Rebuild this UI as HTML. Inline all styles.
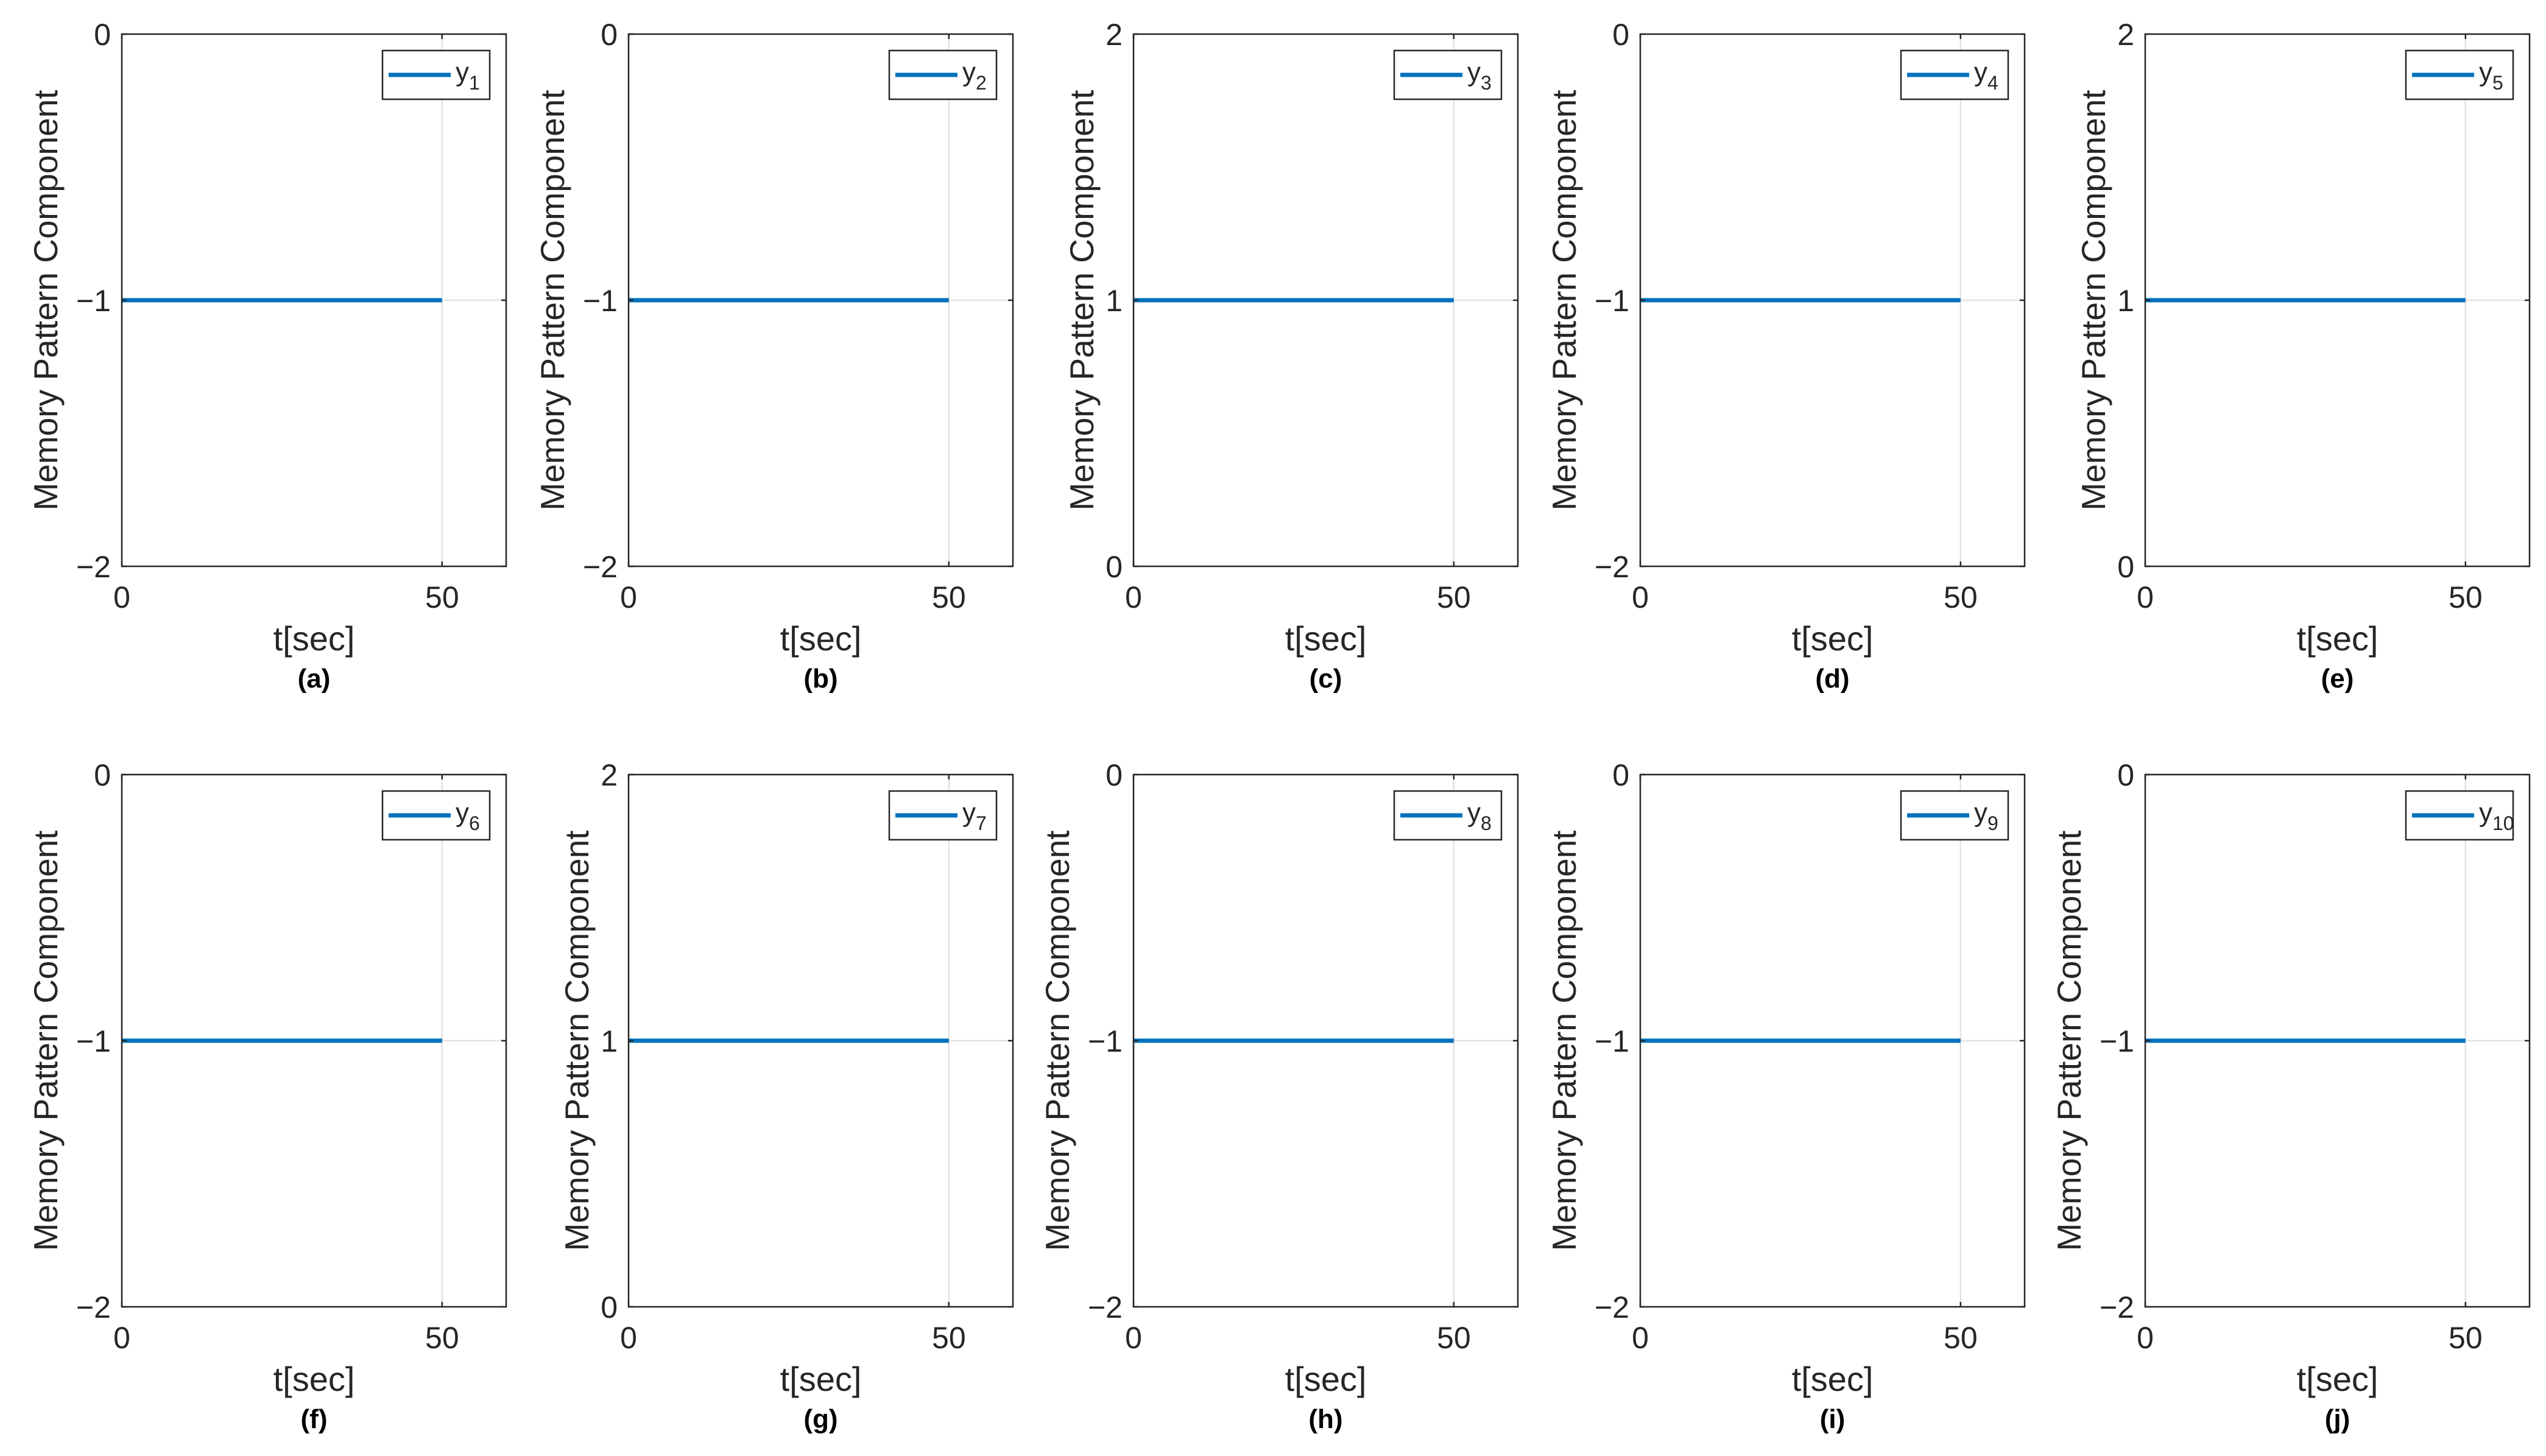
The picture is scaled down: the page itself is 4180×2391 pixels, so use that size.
<!DOCTYPE html>
<html><head><meta charset="utf-8"><style>
html,body{margin:0;padding:0;background:#fff}
svg{display:block}
text{font-family:"Liberation Sans",sans-serif;fill:#262626}
</style></head><body>
<svg id="fig" width="4180" height="2391" viewBox="0 0 4180 2391"></svg>
<script>
const panelLetters = ["a","b","c","d","e","f","g","h","i","j"];
const seriesNames = ["1","2","3","4","5","6","7","8","9","10"];
const seriesValues = [-1,-1,1,-1,1,-1,1,-1,-1,-1];
const yMins = [-2,-2,0,-2,0,-2,0,-2,-2,-2];
const yMaxs = [0,0,2,0,2,0,2,0,0,0];
const tStart = [0,0,0,0,0,0,0,0,0,0];
const tEnd = [50,50,50,50,50,50,50,50,50,50];
const xTicks = [0,50];
const xMax = 60;

const NS = "http://www.w3.org/2000/svg";
const svg = document.getElementById("fig");
const colL = [200,1032,1861,2693,3522];
const axW = 631;
const rowT = [56,1272];
const axH = 874;
function mk(tag, attrs, parent){
  const e = document.createElementNS(NS, tag);
  for (const k in attrs) e.setAttribute(k, attrs[k]);
  (parent||svg).appendChild(e);
  return e;
}
for (let i=0;i<10;i++){
  const L = colL[i%5], T = rowT[Math.floor(i/5)], R = L+axW, B = T+axH;
  const g = mk("g",{});
  
  
  const y0 = yMins[i], y1 = yMaxs[i];
  const sx = v => L + (v/xMax)*axW;
  const sy = v => B - (v-y0)/(y1-y0)*axH;
  const yTicks = [y0,(y0+y1)/2,y1];
  xTicks.forEach(t=>{ if(t>0&&t<xMax){ const l=mk("line",{x1:sx(t),x2:sx(t),y1:T,y2:B,stroke:"#e3e3e3","stroke-width":2.5},g);
     }});
  yTicks.forEach(t=>{ if(t>y0&&t<y1){ const l=mk("line",{x1:L,x2:R,y1:sy(t),y2:sy(t),stroke:"#e3e3e3","stroke-width":2.5},g);
     }});
  const ln = mk("line",{x1:sx(tStart[i]),x2:sx(tEnd[i]),y1:sy(seriesValues[i]),y2:sy(seriesValues[i]),stroke:"#0072BD","stroke-width":7},g);
  
  
  const bx = mk("rect",{x:L,y:T,width:axW,height:axH,fill:"none",stroke:"#262626","stroke-width":2.5},g);
   
  xTicks.forEach(t=>{
    mk("line",{x1:sx(t),x2:sx(t),y1:B,y2:B-8,stroke:"#262626","stroke-width":2.5},g);
    mk("line",{x1:sx(t),x2:sx(t),y1:T,y2:T+8,stroke:"#262626","stroke-width":2.5},g);
    const tx = mk("text",{x:sx(t),y:B+68,"text-anchor":"middle","font-size":50},g);
     
    tx.textContent = String(t);
  });
  yTicks.forEach(t=>{
    mk("line",{x1:L,x2:L+8,y1:sy(t),y2:sy(t),stroke:"#262626","stroke-width":2.5},g);
    mk("line",{x1:R,x2:R-8,y1:sy(t),y2:sy(t),stroke:"#262626","stroke-width":2.5},g);
    const tx = mk("text",{x:L-18,y:sy(t)+18,"text-anchor":"end","font-size":50},g);
     
    tx.textContent = t<0 ? "\u2212"+Math.abs(t) : String(t);
  });
  const xl = mk("text",{x:L+axW/2,y:B+138,"text-anchor":"middle","font-size":56},g);
   
  xl.textContent = "t[sec]";
  const cap = mk("text",{x:L+axW/2,y:B+199,"text-anchor":"middle","font-size":44,"font-weight":"bold",style:"fill:#000"},g);
   
  cap.textContent = "("+panelLetters[i]+")";
  const off = y0<0 ? 106 : 66;
  const yl = mk("text",{x:0,y:0,"text-anchor":"middle","font-size":55,transform:`translate(${L-off},${T+axH/2}) rotate(-90)`},g);
   
  yl.textContent = "Memory Pattern Component";
  const lw = 176, lh = 80, lx = R-27-lw, ly = T+27;
  const lg = mk("g",{},g);
   
  mk("rect",{x:lx,y:ly,width:lw,height:lh,fill:"#fff",stroke:"#262626","stroke-width":2.5},lg);
  mk("line",{x1:lx+10,x2:lx+112,y1:ly+lh/2,y2:ly+lh/2,stroke:"#0072BD","stroke-width":7},lg);
  const lt = mk("text",{x:lx+120,y:ly+lh/2+10,"font-size":44},lg);
   
  lt.textContent = "y";
  const sub = mk("tspan",{dy:14,"font-size":32},lt);
  sub.textContent = seriesNames[i];
}
</script>
</body></html>
